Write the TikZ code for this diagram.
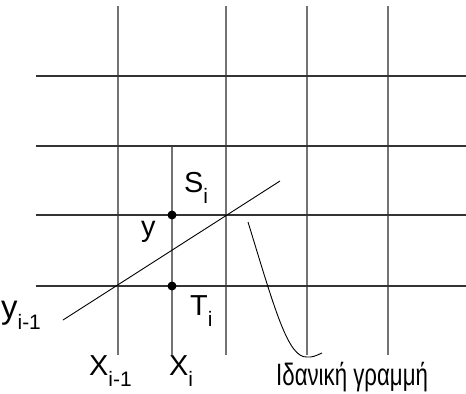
\documentclass[tikz,border=0pt]{standalone}
\usepackage{fontspec}
\setmainfont{Liberation Sans}
\newfontfamily\greekfont[FakeStretch=0.72]{Liberation Sans}
\usetikzlibrary{positioning}
\newcommand{\lowidx}[1]{\raisebox{-11bp}{\fontsize{21}{21}\selectfont #1}}

\begin{document}
\begin{tikzpicture}[x=1bp, y=-1bp,
  gridv/.style={draw=black!55, line width=1.3bp},
  gridh/.style={draw=black!80, line width=1.3bp},
  lbl/.style={inner sep=0pt, anchor=base west, font=\fontsize{29}{31}\selectfont},
  pnt/.style={circle, fill=black, inner sep=0pt, minimum size=9bp}]
\useasboundingbox (0,0) rectangle (466,393);
% grid
\foreach \gx in {118,226,307,388}
  \draw[gridv] (\gx,6) -- (\gx,355);
\draw[gridv] (172,146) -- (172,355);
\foreach \gy in {76,146,215,286}
  \draw[gridh] (36,\gy) -- (466,\gy);
% ideal line
\coordinate (lineA) at (63,320);
\coordinate (lineB) at (280,181);
\draw[line width=0.9bp] (lineA) -- (lineB);
\node[pnt] (dotS) at (172,215) {};
\node[pnt] (dotT) at (172,286) {};
% labels
\node[lbl] (labS) at (184,192) {S\lowidx{i}};
\node[lbl] (laby) at (141,236) {y};
\node[lbl] (labT) at (190,315) {T\lowidx{i}};
\node[lbl, font=\fontsize{33}{35}\selectfont] (labyi) at (1,318) {y\lowidx{i-1}};
\node[lbl] (labxa) at (89,375) {X\lowidx{i-1}};
\node[lbl] (labxb) at (169,375) {X\lowidx{i}};
\node[lbl, font=\fontsize{31}{33}\selectfont\greekfont] (ideal) at (276,385) {Ιδανική γραμμή};
% pointer
\coordinate (ptrA) at (248,222);
\coordinate (ptrB) at (322,353);
\draw[line width=0.9bp] (ptrA) .. controls (275,310) and (288,358) .. (307,357)
  .. controls (313,357) .. (ptrB);
\end{tikzpicture}
\end{document}
